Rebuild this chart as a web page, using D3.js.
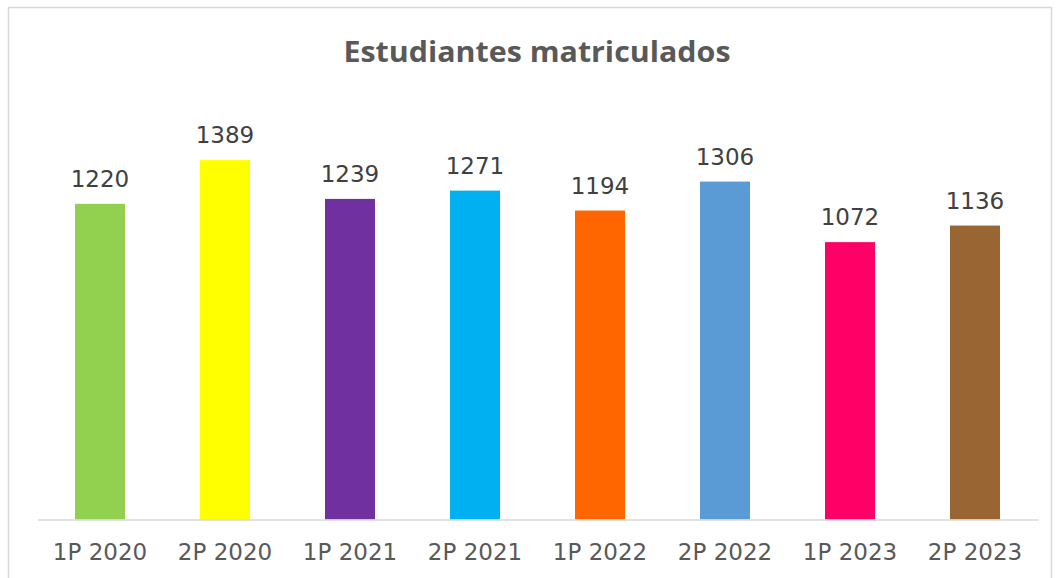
<!DOCTYPE html>
<html>
<head>
<meta charset="utf-8">
<script src="https://cdn.jsdelivr.net/npm/d3@7"></script>
<style>
  body { margin: 0; background: #fff; }
  svg { display: block; }
</style>
</head>
<body>
<svg id="chart" width="1057" height="578"></svg>
<script>
var periods = ["1P 2020", "2P 2020", "1P 2021", "2P 2021", "1P 2022", "2P 2022", "1P 2023", "2P 2023"]
var students = [1220, 1389, 1239, 1271, 1194, 1306, 1072, 1136]
var barColors = ["#92D050", "#FFFF00", "#7030A0", "#00B0F0", "#FF6600", "#5B9BD5", "#FF0066", "#996633"]

var svg = d3.select("#chart")
const margins = {top: 105.5, bottom: 58.5, left: 37.5, right: 19.5}
var width = 1057, height = 578

// chart area border
svg.append("rect")
    .attr("x", 8.5).attr("y", 7.5)
    .attr("width", 1043).attr("height", 580)
    .attr("fill", "none")
    .attr("stroke", "#d9d9d9")
    .attr("stroke-width", 1.5)

svg.append("text")
    .attr("x", 537)
    .attr("y", 62)
    .attr("text-anchor", "middle")
    .attr("fill", "#595959")
    .attr("textLength", 387)
    .attr("lengthAdjust", "spacingAndGlyphs")
    .style("font-family", "'Open Sans', 'Liberation Sans', sans-serif")
    .style("font-weight", "bold")
    .style("font-size", "29px")
    .text("Estudiantes matriculados")

var xScale = d3.scaleBand()
    .domain(periods)
    .range([margins.left, width - margins.right])
    .paddingInner(0.6)
    .paddingOuter(0.3)

var yScale = d3.scaleLinear()
    .domain([0, 1600])
    .range([height - margins.bottom, margins.top])

var data = periods.map((p, i) => ({period: p, value: students[i], color: barColors[i]}))

svg.selectAll("rect.bar")
    .data(data).enter()
    .append("rect").classed("bar", true)
    .attr("x", d => xScale(d.period))
    .attr("y", d => yScale(d.value))
    .attr("width", xScale.bandwidth())
    .attr("height", d => yScale(0) - yScale(d.value))
    .attr("fill", d => d.color)

svg.selectAll("text.value")
    .data(data).enter()
    .append("text").classed("value", true)
    .attr("x", d => xScale(d.period) + xScale.bandwidth() / 2)
    .attr("y", d => yScale(d.value) - 17)
    .attr("text-anchor", "middle")
    .attr("fill", "#404040")
    .style("font-family", "'DejaVu Sans', Verdana, sans-serif")
    .style("font-size", "23px")
    .text(d => d.value)

var xAxis = d3.axisBottom(xScale).tickSize(0)
var axisG = svg.append("g")
    .attr("transform", "translate(0," + yScale(0) + ")")
    .call(xAxis)
axisG.select(".domain").attr("stroke", "#d9d9d9").attr("stroke-width", 1.5)
axisG.selectAll("text")
    .attr("fill", "#595959")
    .attr("y", 40.5)
    .attr("dy", 0)
    .style("font-family", "'DejaVu Sans', Verdana, sans-serif")
    .style("font-size", "23px")
</script>
</body>
</html>
